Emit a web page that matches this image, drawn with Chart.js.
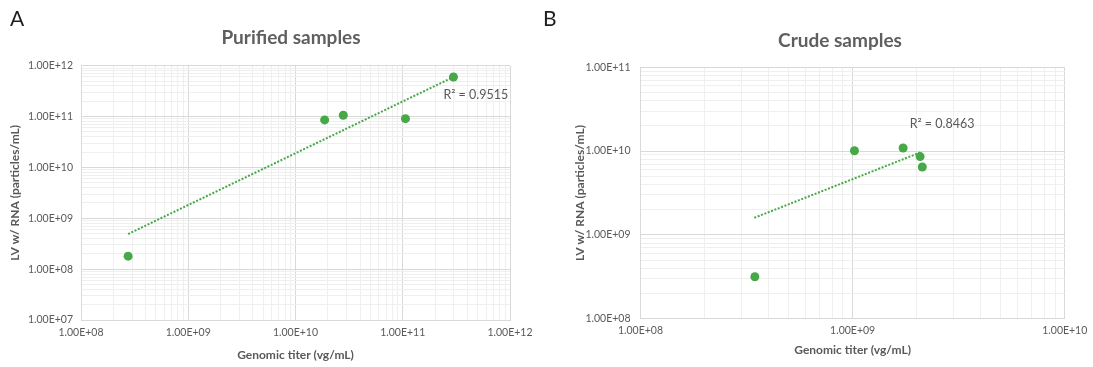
<!DOCTYPE html>
<html>
<head>
<meta charset="utf-8">
<script src="https://cdn.jsdelivr.net/npm/chart.js@4.4.1/dist/chart.umd.min.js"></script>
<style>
  body { margin: 0; background: #fff; font-family: Lato, sans-serif; }
  #wrap { position: relative; width: 1093px; height: 367px; overflow: hidden; }
  .box { position: absolute; top: 0; height: 367px; }
  .panel { position: absolute; font-size: 21px; color: #1f1f1f; line-height: 1; }
  .title { position: absolute; font-size: 19px; font-weight: 700; color: #5f5f5f; line-height: 1;
           white-space: nowrap; transform: translateX(-50%); }
</style>
</head>
<body>
<div id="wrap">
  <div class="box" style="left:0;width:540px"><canvas id="chartA"></canvas></div>
  <div class="box" style="left:540px;width:553px"><canvas id="chartB"></canvas></div>
  <div class="panel" style="left:10px;top:7px">A</div>
  <div class="panel" style="left:543px;top:7px">B</div>
  <div class="title" style="left:291px;top:27px">Purified samples</div>
  <div class="title" style="left:840px;top:30px">Crude samples</div>
</div>
<script>
// Purified samples (panel A)
const purifiedTiter = [2.75e8, 1.87e10, 2.79e10, 1.06e11, 2.97e11];
const purifiedLv = [1.8e8, 8.6e10, 1.06e11, 9.1e10, 6.0e11];
const purifiedTrendX = [2.75e8, 2.97e11];
const purifiedTrendY = [4.9e8, 6.0e11];
const purifiedXTicks = [1e8, 1e9, 1e10, 1e11, 1e12];
const purifiedYTicks = [1e7, 1e8, 1e9, 1e10, 1e11, 1e12];
const purifiedR2 = 'R² = 0.9515';

// Crude samples (panel B)
const crudeTiter = [3.46e8, 1.02e9, 1.73e9, 2.08e9, 2.13e9];
const crudeLv = [3.17e8, 1.01e10, 1.09e10, 8.6e9, 6.46e9];
const crudeTrendX = [3.44e8, 2.1e9];
const crudeTrendY = [1.6e9, 9.7e9];
const crudeXTicks = [1e8, 1e9, 1e10];
const crudeYTicks = [1e8, 1e9, 1e10, 1e11];
const crudeR2 = 'R² = 0.8463';

const xTitle = 'Genomic titer (vg/mL)';
const yTitle = 'LV w/ RNA (particles/mL)';

const green = '#46a846';
const textGray = '#595959';

function isMajor(v) {
    const l = Math.log10(v);
    return Math.abs(l - Math.round(l)) < 1e-9;
}

// 1e8 -> "1.00E+08"
function fmt(v) {
    return v.toExponential(2).toUpperCase().replace(/E\+(\d)$/, 'E+0$1');
}

// majors plus 2..9 in every decade, like Excel's minor gridlines
function logTicks(majors) {
    const out = [];
    majors.forEach((v, i) => {
        out.push({ value: v, major: true });
        if (i < majors.length - 1) {
            for (let m = 2; m <= 9; m++) out.push({ value: v * m, major: false });
        }
    });
    return out;
}

function pairs(xs, ys) {
    return xs.map((x, i) => ({ x: x, y: ys[i] }));
}

function logAxis(majors, o) {
    return {
        type: 'logarithmic',
        position: o.position,
        min: majors[0],
        max: majors[majors.length - 1],
        afterBuildTicks: s => { s.ticks = logTicks(majors); },
        afterFit: s => {
            if (o.width) s.width = o.width;
            if (o.height) s.height = o.height;
        },
        grid: {
            color: c => (c.tick && isMajor(c.tick.value)) ? '#d9d9d9' : '#efefef',
            drawTicks: false,
            lineWidth: 1
        },
        border: { color: '#d9d9d9' },
        ticks: {
            autoSkip: false,
            maxRotation: 0,
            padding: o.tickPad,
            color: textGray,
            font: { family: 'Lato', size: 10.5 },
            callback: v => isMajor(v) ? fmt(v) : ''
        },
        title: {
            display: true,
            text: o.title,
            color: textGray,
            font: { family: 'Lato', size: 12, weight: 'bold' },
            padding: o.titlePad
        }
    };
}

// R² text placed in data space
const r2Label = {
    id: 'r2Label',
    afterDatasetsDraw(chart, args, opts) {
        const { ctx, scales } = chart;
        ctx.save();
        ctx.font = '12.5px Lato';
        ctx.fillStyle = textGray;
        ctx.textAlign = 'center';
        ctx.textBaseline = 'middle';
        ctx.fillText(opts.text, scales.x.getPixelForValue(opts.x), scales.y.getPixelForValue(opts.y));
        ctx.restore();
    }
};

function makeChart(id, cfg) {
    return new Chart(document.getElementById(id), {
        type: 'scatter',
        data: {
            datasets: [{
                data: pairs(cfg.xs, cfg.ys),
                backgroundColor: green,
                borderWidth: 0,
                pointRadius: 4.5
            }, {
                data: pairs(cfg.tx, cfg.ty),
                showLine: true,
                borderColor: green,
                borderWidth: 2,
                borderDash: [2, 1.6],
                pointRadius: 0
            }]
        },
        options: {
            responsive: true,
            maintainAspectRatio: false,
            animation: false,
            layout: { padding: cfg.padding },
            plugins: {
                legend: { display: false },
                tooltip: { enabled: false },
                r2Label: cfg.label
            },
            scales: {
                x: logAxis(cfg.xTicks, cfg.xAxis),
                y: logAxis(cfg.yTicks, cfg.yAxis)
            }
        },
        plugins: [r2Label]
    });
}

makeChart('chartA', {
    xs: purifiedTiter, ys: purifiedLv, tx: purifiedTrendX, ty: purifiedTrendY,
    xTicks: purifiedXTicks, yTicks: purifiedYTicks,
    padding: { left: 0, right: 30, top: 65.7, bottom: 0 },
    xAxis: { position: 'bottom', height: 47, tickPad: 6.7, title: xTitle, titlePad: { top: 0, bottom: 4.8 } },
    yAxis: { position: 'left', width: 81, tickPad: 8, title: yTitle, titlePad: { top: 7.8, bottom: 0 } },
    label: { text: purifiedR2, x: 4.8e11, y: 2.65e11 }
});

makeChart('chartB', {
    xs: crudeTiter, ys: crudeLv, tx: crudeTrendX, ty: crudeTrendY,
    xTicks: crudeXTicks, yTicks: crudeYTicks,
    padding: { left: 0, right: 24.7, top: 67.3, bottom: 0 },
    xAxis: { position: 'bottom', height: 48.3, tickPad: 5.7, title: xTitle, titlePad: { top: 0, bottom: 9.8 } },
    yAxis: { position: 'left', width: 100.5, tickPad: 10, title: yTitle, titlePad: { top: 32.8, bottom: 0 } },
    label: { text: crudeR2, x: 2.64e9, y: 2.1e10 }
});
</script>
</body>
</html>
